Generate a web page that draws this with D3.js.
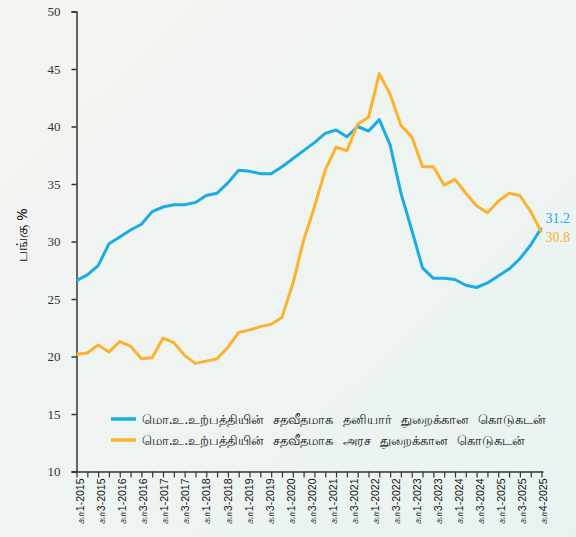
<!DOCTYPE html>
<html>
<head>
<meta charset="utf-8">
<script src="https://cdn.jsdelivr.net/npm/d3@7"></script>
<style>
  html, body { margin: 0; padding: 0; }
  body { width: 576px; height: 537px; overflow: hidden; }
  svg { display: block; }
</style>
</head>
<body>
<svg id="chart" width="576" height="537"></svg>
<script>
// ---- data ----
const quarters = [
  "Q1-2015","Q2-2015","Q3-2015","Q4-2015","Q1-2016","Q2-2016","Q3-2016","Q4-2016",
  "Q1-2017","Q2-2017","Q3-2017","Q4-2017","Q1-2018","Q2-2018","Q3-2018","Q4-2018",
  "Q1-2019","Q2-2019","Q3-2019","Q4-2019","Q1-2020","Q2-2020","Q3-2020","Q4-2020",
  "Q1-2021","Q2-2021","Q3-2021","Q4-2021","Q1-2022","Q2-2022","Q3-2022","Q4-2022",
  "Q1-2023","Q2-2023","Q3-2023","Q4-2023","Q1-2024","Q2-2024","Q3-2024","Q4-2024",
  "Q1-2025","Q2-2025","Q3-2025","Q4-2025"
];
const privateCredit = [
  26.6, 27.1, 27.9, 29.8, 30.4, 31.0, 31.5, 32.6,
  33.0, 33.2, 33.2, 33.4, 34.0, 34.2, 35.1, 36.2,
  36.1, 35.9, 35.9, 36.5, 37.2, 37.9, 38.6, 39.4,
  39.7, 39.1, 40.0, 39.6, 40.6, 38.4, 34.2, 31.0,
  27.7, 26.8, 26.8, 26.7, 26.2, 26.0, 26.4, 27.0,
  27.6, 28.5, 29.7, 31.2
];
const governmentCredit = [
  20.2, 20.3, 21.0, 20.4, 21.3, 20.9, 19.8, 19.9,
  21.6, 21.2, 20.1, 19.4, 19.6, 19.8, 20.8, 22.1,
  22.3, 22.6, 22.8, 23.4, 26.3, 30.1, 33.0, 36.2,
  38.2, 37.9, 40.2, 40.8, 44.6, 42.8, 40.1, 39.1,
  36.5, 36.5, 34.9, 35.4, 34.2, 33.1, 32.5, 33.5,
  34.2, 34.0, 32.6, 30.8
];
const xTickLabels = [
  "கா1-2015","கா3-2015","கா1-2016","கா3-2016","கா1-2017","கா3-2017",
  "கா1-2018","கா3-2018","கா1-2019","கா3-2019","கா1-2020","கா3-2020",
  "கா1-2021","கா3-2021","கா1-2022","கா3-2022","கா1-2023","கா3-2023",
  "கா1-2024","கா3-2024","கா1-2025","கா3-2025","கா4-2025"
];
const yTicks = [10, 15, 20, 25, 30, 35, 40, 45, 50];
const seriesNames = [
  "மொ.உ.உற்பத்தியின் சதவீதமாக தனியார் துறைக்கான கொடுகடன்",
  "மொ.உ.உற்பத்தியின் சதவீதமாக அரச துறைக்கான கொடுகடன்"
];
const yTitle = "பங்கு %";

// ---- drawing ----
const colors = ["#1aace4", "#fbb22e"];
const svg = d3.select("#chart");

const defs = svg.append("defs");
const grad = defs.append("linearGradient").attr("id", "bg")
  .attr("x1", "0").attr("y1", "0").attr("x2", "1").attr("y2", "1");
grad.append("stop").attr("offset", "0").attr("stop-color", "#f5f5f1");
grad.append("stop").attr("offset", "1").attr("stop-color", "#e8f3f1");
svg.append("rect").attr("width", 576).attr("height", 537).attr("fill", "url(#bg)");

const x = d3.scalePoint().domain(quarters).range([76.5, 541.5]);
const xl = d3.scalePoint().domain(xTickLabels).range([80, 543]);
const y = d3.scaleLinear().domain([10, 50]).range([471.5, 11.5]);

// y axis
const yAxis = svg.append("g").attr("transform", "translate(76.5,0)")
  .call(d3.axisLeft(y).tickValues(yTicks).tickSize(5).tickPadding(11).tickFormat(d3.format("d")));
yAxis.select(".domain").attr("stroke", "#333").attr("stroke-width", 1.5);
yAxis.selectAll(".tick line").attr("stroke", "#333").attr("stroke-width", 1.5);
yAxis.selectAll("text").attr("font-family", "'Liberation Serif', serif")
  .attr("font-size", 13).attr("fill", "#333");

// x axis (ticks every quarter)
const xAxis = svg.append("g").attr("transform", "translate(0,471.5)")
  .call(d3.axisBottom(x).tickSize(6).tickFormat(""));
xAxis.select(".domain").attr("stroke", "#333").attr("stroke-width", 1.5)
  .attr("d", "M72,0.5H543.5");
xAxis.selectAll(".tick line").attr("stroke", "#333").attr("stroke-width", 1.2);

// x labels
const xLab = svg.append("g").attr("transform", "translate(0,471.5)")
  .call(d3.axisBottom(xl).tickSize(0));
xLab.select(".domain").remove();
xLab.selectAll("text")
  .attr("transform", "rotate(-90)")
  .attr("x", -7).attr("y", 0).attr("dy", "0.35em")
  .attr("text-anchor", "end")
  .attr("font-family", "'Liberation Sans', 'Noto Sans', sans-serif")
  .attr("font-size", 10.5).attr("fill", "#111");

// y title
svg.append("text")
  .attr("transform", "translate(27,235) rotate(-90)")
  .attr("text-anchor", "middle")
  .attr("font-family", "'Noto Sans', sans-serif")
  .attr("font-size", 15).attr("fill", "#111")
  .text(yTitle);

// lines
const line = d3.line().x((d, i) => x(quarters[i])).y(d => y(d));
[privateCredit, governmentCredit].forEach((s, k) => {
  svg.append("path").datum(s)
    .attr("fill", "none").attr("stroke", colors[k])
    .attr("stroke-width", 3).attr("stroke-linejoin", "round")
    .attr("d", line);
});

// end labels
const last = quarters[quarters.length - 1];
svg.append("text").attr("x", x(last) + 4).attr("y", y(privateCredit[43]) - 5)
  .attr("font-family", "'Liberation Serif', serif").attr("font-size", 14)
  .attr("fill", colors[0]).text(d3.format(".1f")(privateCredit[43]));
svg.append("text").attr("x", x(last) + 4).attr("y", y(governmentCredit[43]) + 10)
  .attr("font-family", "'Liberation Serif', serif").attr("font-size", 14)
  .attr("fill", colors[1]).text(d3.format(".1f")(governmentCredit[43]));

// legend
const leg = svg.append("g");
seriesNames.forEach((name, k) => {
  const ly = 419 + k * 21;
  leg.append("line").attr("x1", 111).attr("x2", 136).attr("y1", ly).attr("y2", ly)
    .attr("stroke", colors[k]).attr("stroke-width", 3.5);
  leg.append("text").attr("x", 142).attr("y", ly).attr("dy", "0.35em")
    .attr("font-family", "'Noto Sans', sans-serif").attr("font-size", 13)
    .attr("word-spacing", "6px")
    .attr("fill", "#111")
    .text(name);
});
</script>
</body>
</html>
